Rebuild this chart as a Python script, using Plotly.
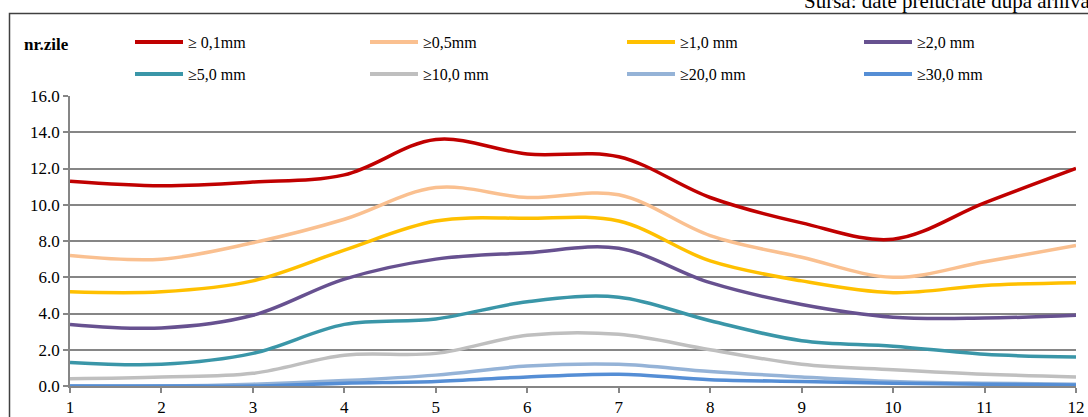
import plotly.graph_objects as go

months = [1, 2, 3, 4, 5, 6, 7, 8, 9, 10, 11, 12]
tick_vals = [0, 2, 4, 6, 8, 10, 12, 14, 16]

names = ["≥ 0,1mm", "≥0,5mm", "≥1,0 mm", "≥2,0 mm",
         "≥5,0 mm", "≥10,0 mm", "≥20,0 mm", "≥30,0 mm"]

s_01 = [11.3, 11.05, 11.25, 11.65, 13.6, 12.8, 12.65, 10.4, 9.0, 8.1, 10.1, 12.0]
s_05 = [7.2, 7.0, 7.9, 9.2, 10.95, 10.4, 10.55, 8.3, 7.1, 6.0, 6.85, 7.75]
s_10 = [5.2, 5.2, 5.8, 7.5, 9.1, 9.25, 9.1, 6.9, 5.8, 5.15, 5.55, 5.7]
s_20 = [3.4, 3.2, 3.9, 5.9, 7.0, 7.35, 7.6, 5.7, 4.5, 3.8, 3.75, 3.9]
s_50 = [1.3, 1.2, 1.8, 3.4, 3.7, 4.65, 4.9, 3.6, 2.5, 2.2, 1.75, 1.6]
s_100 = [0.4, 0.5, 0.7, 1.7, 1.8, 2.8, 2.85, 2.0, 1.2, 0.9, 0.65, 0.5]
s_200 = [0.0, 0.0, 0.1, 0.3, 0.6, 1.1, 1.2, 0.8, 0.5, 0.25, 0.15, 0.1]
s_300 = [0.0, 0.0, 0.0, 0.15, 0.25, 0.5, 0.65, 0.35, 0.25, 0.15, 0.1, 0.05]

series = [s_01, s_05, s_10, s_20, s_50, s_100, s_200, s_300]
colors = ["#C00000", "#FAC090", "#FFC000", "#675190",
          "#3A96A8", "#BFBFBF", "#95B3D7", "#558ED5"]

W, H = 1088, 417
ML, MR, MT, MB = 70, 12, 96, 31
PW, PH = W - ML - MR, H - MT - MB

def px_x(p):
    return (p - ML) / PW

def px_y(p):
    return (H - MB - p) / PH

SERIF = "Liberation Serif"

fig = go.Figure()
for name, vals, col in zip(names, series, colors):
    fig.add_trace(go.Scatter(
        x=months, y=vals, name=name, mode="lines",
        line=dict(color=col, width=3.5, shape="spline", smoothing=1.0),
        showlegend=False,
        hoverinfo="x+y+name",
    ))

fig.update_layout(
    width=W, height=H,
    margin=dict(l=ML, r=MR, t=MT, b=MB, pad=0, autoexpand=False),
    paper_bgcolor="white", plot_bgcolor="white",
    font=dict(family=SERIF, size=17, color="#000000"),
    showlegend=False,
    xaxis=dict(
        range=[1, 12], tickmode="array", tickvals=months,
        showgrid=False, zeroline=False, automargin=False,
        showline=True, linecolor="#868686", linewidth=1.5,
        ticks="outside", ticklen=5, tickcolor="#868686", tickwidth=1.5,
        tickfont=dict(family=SERIF, size=17, color="#000000"),
        ticklabelstandoff=0,
    ),
    yaxis=dict(
        range=[0, 16], tickmode="array", tickvals=tick_vals,
        tickformat=".1f", automargin=False,
        showgrid=True, gridcolor="#868686", gridwidth=1.5,
        zeroline=False,
        showline=True, linecolor="#868686", linewidth=1.5,
        ticks="outside", ticklen=5, tickcolor="#868686", tickwidth=1.5,
        tickfont=dict(family=SERIF, size=17, color="#000000"),
    ),
)

# legend drawn as key lines + labels, 4 columns x 2 rows
col_left = [135, 370, 627, 864]
row_mid = [42, 74]
key_len = 48
for i, (name, col) in enumerate(zip(names, colors)):
    r, c = divmod(i, 4)
    x0 = col_left[c]
    y = row_mid[r]
    fig.add_shape(
        type="line", xref="paper", yref="paper",
        x0=px_x(x0), x1=px_x(x0 + key_len), y0=px_y(y), y1=px_y(y),
        line=dict(color=col, width=4),
    )
    fig.add_annotation(
        text=name, xref="paper", yref="paper",
        x=px_x(x0 + key_len + 3), y=px_y(y), xanchor="left", yanchor="middle",
        showarrow=False, font=dict(family=SERIF, size=16, color="#000000"),
    )

# outer chart border (only left and top edges are visible in the frame)
fig.add_shape(
    type="path", xref="paper", yref="paper",
    path=f"M {px_x(9.5)} {px_y(440)} L {px_x(9.5)} {px_y(13.5)} L {px_x(1100)} {px_y(13.5)}",
    line=dict(color="#404040", width=1.5), layer="above",
)

fig.add_annotation(
    text="<b>nr.zile</b>", xref="paper", yref="paper",
    x=px_x(22), y=px_y(44), xanchor="left", yanchor="middle",
    showarrow=False, font=dict(family=SERIF, size=17, color="#000000"),
)

fig.add_annotation(
    text="Sursa: date prelucrate după arhiva", xref="paper", yref="paper",
    x=px_x(802), y=px_y(15), xanchor="left", yanchor="bottom",
    showarrow=False, font=dict(family=SERIF, size=21, color="#000000"),
)

fig.write_html(
    "out.html",
    config={"displayModeBar": False},
    post_script="document.body.style.margin='0';document.body.style.padding='0';"
                "document.body.style.overflow='hidden';",
)
